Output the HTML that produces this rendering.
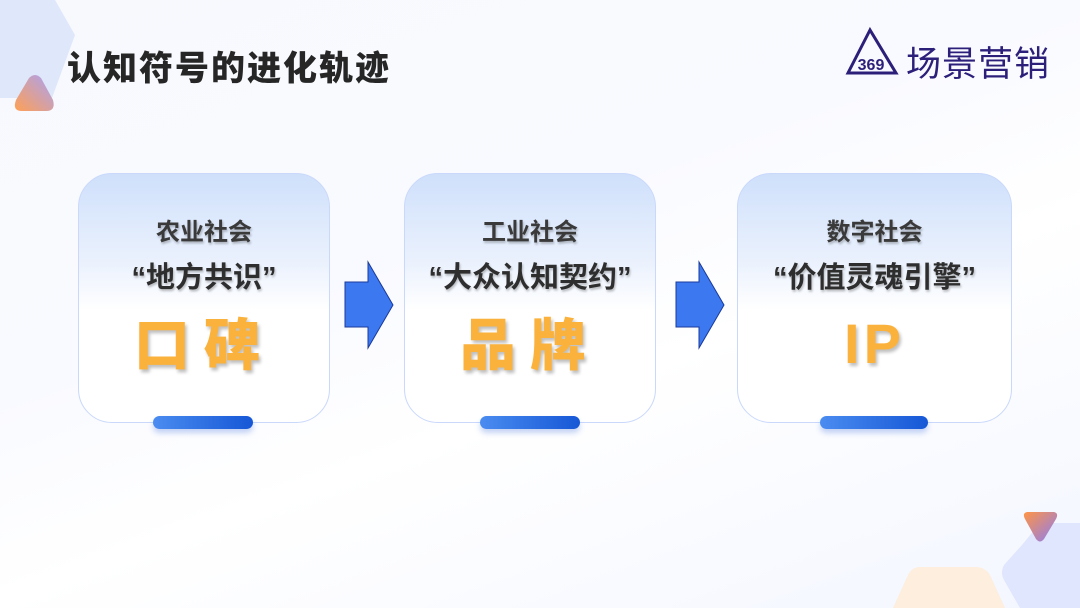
<!DOCTYPE html>
<html><head><meta charset="utf-8"><style>
body{margin:0;width:1080px;height:608px;overflow:hidden;position:relative;font-family:"Liberation Sans","Noto Sans CJK SC",sans-serif;background:linear-gradient(160deg,#f8f9fd 0%,#f9faff 40%,#ffffff 60%,#f3f6ff 100%);}
.abs{position:absolute}
.card{position:absolute;top:173px;height:250px;border-radius:34px;border:1px solid #c9d8fb;background:linear-gradient(180deg,#cfe0fb 0%,#eaf1fd 35%,#ffffff 55%,#ffffff 100%);box-sizing:border-box;text-align:center}
.l1{position:absolute;left:0;right:0;top:38px;font-size:24px;font-weight:bold;color:#3a3a3a;text-shadow:1px 2px 2px rgba(0,0,0,.25)}
.l2{position:absolute;left:0;right:0;top:80px;font-size:29px;font-weight:bold;color:#2e2e2e;text-shadow:1px 2px 2px rgba(0,0,0,.25)}
.big{position:absolute;left:0;right:0;top:127px;font-size:56px;font-weight:900;color:#fbb23d;letter-spacing:14px;text-shadow:2px 3px 3px rgba(0,0,0,.25)}
.bar{position:absolute;top:416px;height:13px;border-radius:7px;background:linear-gradient(90deg,#4a8cf0,#1657d6);box-shadow:0 4px 6px rgba(60,110,220,.3)}
</style></head><body>
<svg class="abs" style="left:0;top:0" width="1080" height="608">
<defs>
<linearGradient id="g1" x1="0" y1="1" x2="1" y2="0"><stop offset="0" stop-color="#ff9f55"/><stop offset="1" stop-color="#a9a2f5"/></linearGradient>
<linearGradient id="g2" x1="0" y1="0" x2="1" y2="1"><stop offset="0" stop-color="#ff9445"/><stop offset="1" stop-color="#8c7cf3"/></linearGradient>
</defs>
<polygon points="0,0 55,0 75,35 52,98 0,98" fill="#dfe7fb"/>
<path d="M29,78 Q35,72 41,78 L53,100 Q56,111 46,111 L22,111 Q12,111 16,100 Z" fill="url(#g1)"/>
<path d="M1022,545 L1040,523 L1080,523 L1080,608 L1020,608 L1004,580 Q1000,573 1004,565 Z" fill="#dfe6fd"/>
<path d="M1027,512 L1054,512 Q1059,513 1056,519 L1044,539 Q1040,544 1036,539 L1025,519 Q1022,513 1027,512Z" fill="url(#g2)"/>
<path d="M920,567 L975,567 Q985,567 990,575 L1005,608 L893,608 L908,575 Q912,567 920,567Z" fill="#fdeedd"/>
<polygon points="345,282 368,282 368,262 393,305 368,348 368,327 345,327" fill="#3c78f0" stroke="#1a3a9a" stroke-width="1"/>
<polygon points="676,282 699,282 699,262 724,305 699,348 699,327 676,327" fill="#3c78f0" stroke="#1a3a9a" stroke-width="1"/>
<path d="M870,30 L848,73 L896,73 Z" stroke="#2c1f7a" stroke-width="3" fill="none"/>
<text x="871" y="70" font-size="16" font-weight="bold" fill="#2c1f7a" text-anchor="middle" font-family="Liberation Sans">369</text>
</svg>
<div class="abs" style="left:67px;top:41px;font-size:34px;font-weight:900;color:#262626;letter-spacing:2px">认知符号的进化轨迹</div>
<div class="abs" style="left:906px;top:36px;font-size:35px;color:#2c1f7a;letter-spacing:1px">场景营销</div>
<div class="card" style="left:78px;width:252px"><div class="l1">农业社会</div><div class="l2">“地方共识”</div><div class="big">口碑</div></div>
<div class="card" style="left:404px;width:252px"><div class="l1">工业社会</div><div class="l2">“大众认知契约”</div><div class="big">品牌</div></div>
<div class="card" style="left:737px;width:275px"><div class="l1">数字社会</div><div class="l2">“价值灵魂引擎”</div><div class="big" style="letter-spacing:4px;top:137px">IP</div></div>
<div class="bar" style="left:153px;width:100px"></div>
<div class="bar" style="left:480px;width:100px"></div>
<div class="bar" style="left:820px;width:108px"></div>
</body></html>
